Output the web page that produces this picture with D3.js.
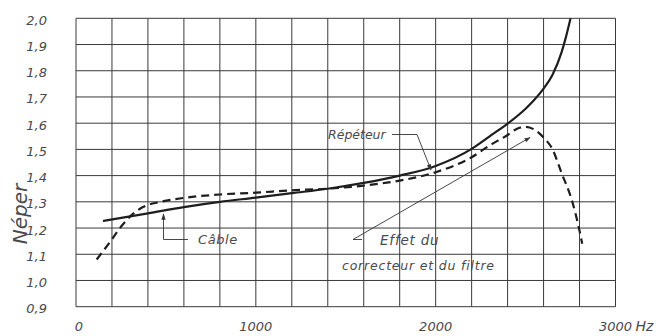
<!DOCTYPE html>
<html>
<head>
<meta charset="utf-8">
<script src="https://cdn.jsdelivr.net/npm/d3@7"></script>
<style>
  body { margin: 0; background: #fff; }
  svg text { font-family: "DejaVu Sans", sans-serif; font-style: italic; fill: #4a4a4a; }
</style>
</head>
<body>
<svg id="chart" width="666" height="336"></svg>
<script>
// solid line: cable
const cableFreq  = [150, 400, 600, 800, 1000, 1200, 1400, 1600, 1800, 2000, 2200, 2300, 2400, 2500, 2550, 2600, 2650, 2700, 2725, 2750];
const cableNeper = [1.227, 1.256, 1.28, 1.300, 1.316, 1.333, 1.350, 1.372, 1.400, 1.437, 1.502, 1.550, 1.598, 1.655, 1.690, 1.732, 1.785, 1.870, 1.930, 2.0];

// dashed line: repeater (corrector + filter)
const repFreq  = [115, 190, 250, 310, 375, 470, 600, 800, 1000, 1200, 1400, 1600, 1800, 2000, 2200, 2300, 2400, 2450, 2500, 2550, 2600, 2650, 2700, 2760, 2795, 2815];
const repNeper = [1.08, 1.148, 1.205, 1.25, 1.281, 1.30, 1.315, 1.328, 1.335, 1.344, 1.350, 1.362, 1.381, 1.413, 1.47, 1.515, 1.555, 1.578, 1.586, 1.575, 1.545, 1.50, 1.41, 1.30, 1.205, 1.14];

const xGrid = d3.range(0, 3001, 200);
const yGrid = d3.range(9, 21).map(d => d / 10);
const xLabels = [0, 1000, 2000, 3000];
const yLabels = ["0,9", "1,0", "1,1", "1,2", "1,3", "1,4", "1,5", "1,6", "1,7", "1,8", "1,9", "2,0"];

const svg = d3.select('#chart');

const x = d3.scaleLinear().domain([0, 3000]).range([76, 615.5]);
const y = d3.scaleLinear().domain([0.9, 2.0]).range([306.7, 18.3]);

// grid
svg.append('g').selectAll('line.v')
  .data(xGrid).enter().append('line')
  .attr('x1', d => x(d)).attr('x2', d => x(d))
  .attr('y1', y(0.9)).attr('y2', y(2.0))
  .attr('stroke', '#3a3a3a').attr('stroke-width', 1);

svg.append('g').selectAll('line.h')
  .data(yGrid).enter().append('line')
  .attr('y1', d => y(d)).attr('y2', d => y(d))
  .attr('x1', x(0)).attr('x2', x(3000))
  .attr('stroke', '#3a3a3a').attr('stroke-width', 1);

// tick labels
svg.append('g').selectAll('text')
  .data(yGrid).enter().append('text')
  .attr('x', 47).attr('y', d => y(d) + 3)
  .attr('text-anchor', 'end')
  .attr('dominant-baseline', 'middle')
  .style('font-size', '13px')
  .text((d, i) => yLabels[i]);

svg.append('g').selectAll('text')
  .data(xLabels).enter().append('text')
  .attr('x', d => x(d) + (d === 0 ? 3 : 0)).attr('y', 331)
  .attr('text-anchor', 'middle')
  .style('font-size', '13px')
  .text(d => d);

svg.append('text')
  .attr('x', x(3000) + 20).attr('y', 331)
  .style('font-size', '14px')
  .text('Hz');

svg.append('text')
  .attr('transform', 'translate(27,214) rotate(-90)')
  .attr('text-anchor', 'middle')
  .style('font-size', '20px')
  .text('Néper');

// curves
svg.append('clipPath').attr('id', 'plot')
  .append('rect').attr('x', x(0)).attr('y', y(2.0))
  .attr('width', x(3000) - x(0)).attr('height', y(0.9) - y(2.0));

const line = d3.line()
  .x(d => x(d[0])).y(d => y(d[1]))
  .curve(d3.curveMonotoneX);

svg.append('path')
  .datum(d3.zip(cableFreq, cableNeper))
  .attr('clip-path', 'url(#plot)')
  .attr('d', line)
  .attr('fill', 'none').attr('stroke', '#1e1e1e').attr('stroke-width', 2.2);

svg.append('path')
  .datum(d3.zip(repFreq, repNeper))
  .attr('clip-path', 'url(#plot)')
  .attr('d', line)
  .attr('fill', 'none').attr('stroke', '#1e1e1e').attr('stroke-width', 2.2)
  .attr('stroke-dasharray', '8,5');

// annotations
svg.append('defs').append('marker')
  .attr('id', 'arrow').attr('viewBox', '0 0 10 10')
  .attr('refX', 9).attr('refY', 5)
  .attr('markerWidth', 7).attr('markerHeight', 7)
  .attr('orient', 'auto')
  .append('path').attr('d', 'M0,1.5 L10,5 L0,8.5 z').attr('fill', '#333');

const leader = (pts) => svg.append('path')
  .attr('d', d3.line()(pts))
  .attr('fill', 'none').attr('stroke', '#333').attr('stroke-width', 0.9)
  .attr('marker-end', 'url(#arrow)');

// Câble
leader([[188, 239.5], [163.5, 239.5], [163.5, 214]]);
svg.append('text').attr('x', 198).attr('y', 244).style('font-size', '13px')
  .style('letter-spacing', '0.6px').text('Câble');

// Répéteur
leader([[392, 134.5], [417, 134.5], [431, 170]]);
svg.append('text').attr('x', 328).attr('y', 139).style('font-size', '12.5px').text('Répéteur');

// Effet du correcteur et du filtre
svg.append('line').attr('x1', 353).attr('y1', 239.5).attr('x2', 362).attr('y2', 239.5)
  .attr('stroke', '#333').attr('stroke-width', 0.9);
leader([[353, 239.5], [530, 137.5]]);
svg.append('text').attr('x', 380).attr('y', 245).style('font-size', '13.5px')
  .style('letter-spacing', '0.8px').text('Effet du');
svg.append('text').attr('x', 342).attr('y', 270).style('font-size', '12.5px')
  .style('letter-spacing', '0.8px').text('correcteur et du filtre');
</script>
</body>
</html>
